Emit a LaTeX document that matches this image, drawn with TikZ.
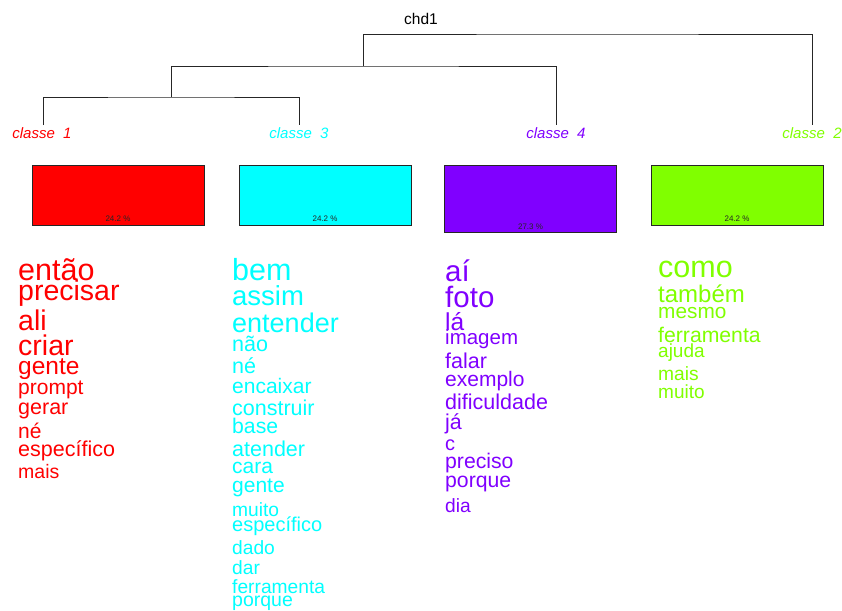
\documentclass[tikz,border=0pt]{standalone}
\usepackage{fontspec}
\setmainfont{Liberation Sans}
\definecolor{corUm}{HTML}{FF0000}
\definecolor{corTres}{HTML}{00FFFF}
\definecolor{corQuatro}{HTML}{8000FF}
\definecolor{corDois}{HTML}{80FF00}
\tikzset{
  ramo/.style={line width=0.9pt, black!85},
  rotulo/.style={font=\fontsize{15}{15}\selectfont\itshape, inner sep=0pt},
  caixa/.style={draw=black!85, line width=0.8pt, minimum width=172pt, inner sep=0pt},
  pct/.style={font=\fontsize{8}{8}\selectfont, text=black!85, inner sep=0pt},
  palavra/.style={anchor=base west, inner sep=0pt}
}
\begin{document}
\begin{tikzpicture}[x=1pt, y=-1pt]
  \useasboundingbox (0,0) rectangle (842,610);
  % dendrograma
  \node (chd) at (421,19) {\fontsize{15.5}{15.5}\selectfont chd1};
  \coordinate (f1) at (43,125);
  \coordinate (f3) at (299,125);
  \coordinate (f4) at (556,125);
  \coordinate (f2) at (812,125);
  \coordinate (n13) at (171,97);
  \coordinate (n134) at (363,66);
  \coordinate (raiz) at (587,34);
  \draw[ramo] (f1) |- (n13) -| (f3);
  \draw[ramo] (n13) |- (n134) -| (f4);
  \draw[ramo] (n134) |- (raiz) -| (f2);
  % nomes das classes
  \node[rotulo, text=corUm] (c1) at (42,133) {classe~~1};
  \node[rotulo, text=corTres] (c3) at (299,133) {classe~~3};
  \node[rotulo, text=corQuatro] (c4) at (556,133) {classe~~4};
  \node[rotulo, text=corDois] (c2) at (812,133) {classe~~2};
  % caixas com o tamanho de cada classe
  \node[caixa, fill=corUm, minimum height=60pt] (b1) at (118,195) {};
  \node[caixa, fill=corTres, minimum height=60pt] (b3) at (325,195) {};
  \node[caixa, fill=corQuatro, minimum height=67pt] (b4) at (530.5,198.5) {};
  \node[caixa, fill=corDois, minimum height=60pt] (b2) at (737,195) {};
  \node[pct] (p1) at ([yshift=7pt]b1.south) {24.2 \%};
  \node[pct] (p3) at ([yshift=7pt]b3.south) {24.2 \%};
  \node[pct] (p4) at ([yshift=6pt]b4.south) {27.3 \%};
  \node[pct] (p2) at ([yshift=7pt]b2.south) {24.2 \%};
  % palavras de cada classe (palavra/tamanho/linha de base)
  \foreach \pal/\tam/\yb [count=\i] in {então/30.5/280, precisar/28.5/300, ali/28.5/330,
      criar/28.5/355, gente/24.5/374, prompt/21/394, gerar/21.5/414, né/21/438,
      específico/21.5/456, mais/19.5/478}
    \node[palavra, text=corUm, font=\fontsize{\tam}{\tam}\selectfont] (w1-\i) at (18,\yb) {\pal};
  \foreach \pal/\tam/\yb [count=\i] in {bem/30.5/280, assim/27.5/305, entender/27/332,
      não/21.5/351, né/21.5/373, encaixar/21/393, construir/21.5/415, base/21.2/433,
      atender/21.5/456, cara/21/473, gente/21/492, muito/19.2/516,
      específico/20/531, dado/19.2/554, dar/19.2/574, ferramenta/19.2/593,
      porque/19.5/606}
    \node[palavra, text=corTres, font=\fontsize{\tam}{\tam}\selectfont] (w3-\i) at (232,\yb) {\pal};
  \foreach \pal/\tam/\yb [count=\i] in {aí/29.5/281, foto/29.5/307, lá/24.5/330,
      imagem/20.5/344, falar/21.5/368, exemplo/21/386, dificuldade/21.5/409,
      já/21.5/429, c/20/450, preciso/21.2/468, porque/21.2/487, dia/19.2/512}
    \node[palavra, text=corQuatro, font=\fontsize{\tam}{\tam}\selectfont] (w4-\i) at (445,\yb) {\pal};
  \foreach \pal/\tam/\yb [count=\i] in {como/30.5/277, também/24/302, mesmo/20.8/318,
      ferramenta/21.2/342, ajuda/19/357, mais/19.2/380, muito/19/398}
    \node[palavra, text=corDois, font=\fontsize{\tam}{\tam}\selectfont] (w2-\i) at (658,\yb) {\pal};
\end{tikzpicture}
\end{document}
